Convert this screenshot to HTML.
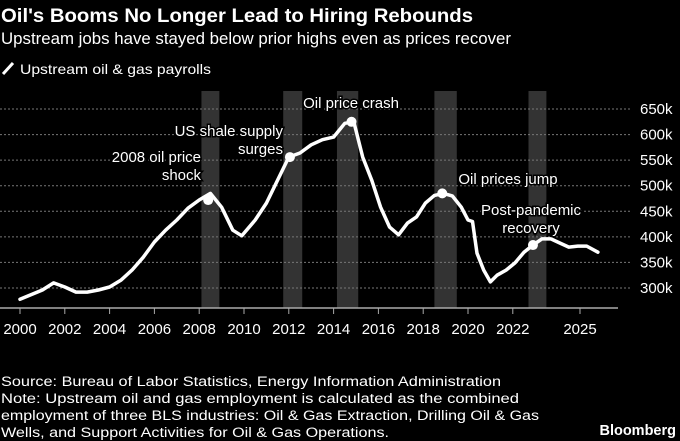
<!DOCTYPE html>
<html><head><meta charset="utf-8"><style>
body{margin:0;background:#000;}
svg{display:block;font-family:"Liberation Sans","DejaVu Sans",sans-serif;}
</style></head><body>
<svg id="chart" width="680" height="441" viewBox="0 0 680 441">
<rect width="680" height="441" fill="#000"/>
<text x="1" y="22" fill="#fff" font-size="19" font-weight="bold" textLength="472" lengthAdjust="spacingAndGlyphs">Oil's Booms No Longer Lead to Hiring Rebounds</text>
<text x="1" y="44" fill="#fff" font-size="16.5" textLength="510" lengthAdjust="spacingAndGlyphs">Upstream jobs have stayed below prior highs even as prices recover</text>
<g>
<line x1="3" y1="74" x2="13" y2="63" stroke="#fff" stroke-width="3"/>
<text x="20" y="74" fill="#fff" font-size="14" textLength="191" lengthAdjust="spacingAndGlyphs">Upstream oil &amp; gas payrolls</text>
</g>
<g id="bands"></g><g id="grid"></g><g id="axes"></g><g id="series"></g><g id="notes"></g>
<g fill="#fff" font-size="13.5">
<text x="1" y="386" textLength="500" lengthAdjust="spacingAndGlyphs">Source: Bureau of Labor Statistics, Energy Information Administration</text>
<text x="1" y="403" textLength="518" lengthAdjust="spacingAndGlyphs">Note: Upstream oil and gas employment is calculated as the combined</text>
<text x="1" y="420" textLength="538" lengthAdjust="spacingAndGlyphs">employment of three BLS industries: Oil &amp; Gas Extraction, Drilling Oil &amp; Gas</text>
<text x="1" y="437" textLength="388" lengthAdjust="spacingAndGlyphs">Wells, and Support Activities for Oil &amp; Gas Operations.</text>
</g>
<text x="676" y="435" text-anchor="end" fill="#fff" font-size="14.5" font-weight="bold">Bloomberg</text>
</svg>
<script>
const years=[2000,2001,2001.5,2002,2002.5,2003,2003.5,2004,2004.5,2005,2005.5,2006,2006.5,2007,2007.5,2008,2008.5,2009,2009.5,2009.9,2010.5,2011,2011.5,2012,2012.5,2013,2013.5,2014,2014.5,2014.9,2015.3,2015.7,2016.1,2016.5,2016.9,2017.3,2017.7,2018.1,2018.5,2018.9,2019.3,2019.7,2020.0,2020.2,2020.4,2020.7,2021.0,2021.3,2021.7,2022.1,2022.5,2022.9,2023.3,2023.7,2024.1,2024.5,2024.9,2025.3,2025.8];
const payrolls=[278,296,310,302,292,292,296,302,315,335,360,390,413,433,456,472,485,458,413,402,433,466,511,556,564,580,590,595,622,625,556,511,458,419,404,427,439,466,481,485,480,458,433,430,368,335,312,325,335,349,370,384,396,396,388,380,382,382,370];
const bandStarts=[2008.1,2011.75,2014.15,2018.5,2022.7];
const bandEnds=[2008.9,2012.6,2015.1,2019.5,2023.5];
const annYears=[2008.4,2012.05,2014.8,2018.85,2022.9];
const annValues=[472,556,625,485,384];
const annLines=[["2008 oil price","shock"],["US shale supply","surges"],["Oil price crash"],["Oil prices jump"],["Post-pandemic","recovery"]];
const xTicks=[2000,2002,2004,2006,2008,2010,2012,2014,2016,2018,2020,2022,2025];
const yTicks=[300,350,400,450,500,550,600,650];
const NS="http://www.w3.org/2000/svg";
const X=v=>20+(v-2000)*22.4;
const Y=v=>288-(v-300)*0.5114;
function mk(t,a,p){const e=document.createElementNS(NS,t);for(const k in a)e.setAttribute(k,a[k]);document.getElementById(p).appendChild(e);return e;}
bandStarts.forEach((s,i)=>{const r=mk('rect',{x:X(s),y:91,width:X(bandEnds[i])-X(s),height:217,fill:'#333'},'bands');

});
yTicks.forEach(v=>{const l=mk('line',{x1:0,x2:630,y1:Y(v),y2:Y(v),stroke:'#777','stroke-width':1,'stroke-dasharray':'2,2'},'grid');


const t=mk('text',{x:640,y:Y(v)+5,fill:'#fff','font-size':15},'axes');t.textContent=v+'k';

});
const ax=mk('line',{x1:0,x2:618,y1:308,y2:308,stroke:'#aaa','stroke-width':1.5},'axes');


xTicks.forEach(v=>{const l=mk('line',{x1:X(v),x2:X(v),y1:308,y2:314,stroke:'#aaa'},'axes');


const t=mk('text',{x:X(v),y:334,fill:'#fff','font-size':15,'text-anchor':'middle'},'axes');t.textContent=v;

});
const d=years.map((y,i)=>(i?'L':'M')+X(y).toFixed(1)+','+Y(payrolls[i]).toFixed(1)).join('');
const p=mk('path',{d:d,fill:'none',stroke:'#fff','stroke-width':3.5,'stroke-linejoin':'round','stroke-linecap':'round'},'series');


const anchors=[[221,-1,[-20,-6]],[283,-1,[-20,-6]],[338,0,[-20]],[458,0,[-18]],[0,0,[-36,-19]]];
annYears.forEach((y,i)=>{const c=mk('circle',{cx:X(y),cy:Y(annValues[i]),r:5,fill:'#fff'},'notes');

});
const pos=[[201,162,'end'],[283,136,'end'],[351,108,'middle'],[508,184,'middle'],[531,215,'middle']];
annLines.forEach((ls,i)=>{ls.forEach((s,j)=>{const t=mk('text',{x:pos[i][0],y:pos[i][1]+j*18,fill:'#fff','font-size':15,'text-anchor':pos[i][2],stroke:'#000','stroke-width':3,'paint-order':'stroke'},'notes');t.textContent=s;

});});
</script>
</body></html>
